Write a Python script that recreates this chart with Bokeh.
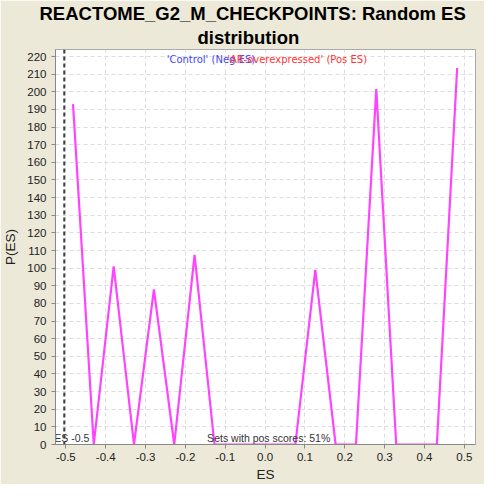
from bokeh.plotting import figure
from bokeh.models import Range1d, FixedTicker, PrintfTickFormatter, Span, Title
from bokeh.core.properties import value
from bokeh.embed import file_html
from bokeh.resources import INLINE

# Data
es_values = [-0.482, -0.430, -0.380, -0.329, -0.279, -0.228, -0.177, -0.127,
             -0.076, -0.026, 0.025, 0.076, 0.126, 0.177, 0.228, 0.279,
             0.329, 0.380, 0.431, 0.482]
p_es = [193, 0, 101, 0, 88, 0, 107.5, 0,
        0, 0, 0, 0, 99, 0, 0, 201.5,
        0, 0, 0, 213.5]
actual_es = -0.504
x_ticks = [-0.5, -0.4, -0.3, -0.2, -0.1, 0.0, 0.1, 0.2, 0.3, 0.4, 0.5]
y_ticks = list(range(0, 230, 10))
title_line1 = "REACTOME_G2_M_CHECKPOINTS: Random ES"
title_line2 = "distribution"
neg_label = "'Control' (Neg ES)"
pos_label = "'AR-overexpressed' (Pos ES)"
pos_scores_label = "Sets with pos scores: 51%"
actual_label = "Actual ES -0.5"

FONT = "Liberation Sans"
LFONT = "DejaVu Sans"
BG = "#ECE9D8"

p = figure(width=484, height=484, output_backend="svg", toolbar_location=None,
           x_range=Range1d(-0.526, 0.528), y_range=Range1d(0, 224),
           min_border_left=54, min_border_right=9, min_border_top=2, min_border_bottom=10,
           background_fill_color="white", border_fill_color=BG)

p.add_layout(Title(text=title_line2, align="left", text_font=FONT,
                   text_font_size="18.5px", text_font_style="bold", text_color="black",
                   standoff=3, offset=142), "above")
p.add_layout(Title(text=title_line1, align="left", text_font=FONT,
                   text_font_size="18.5px", text_font_style="bold", text_color="black",
                   standoff=0, offset=-16), "above")

p.line(es_values, p_es, line_color="#FF44FF", line_width=2.2)

p.add_layout(Span(location=actual_es, dimension="height", line_color="#404040",
                  line_width=2, line_dash="4 3"))

p.text(x=[-0.441], y=[0.3], text=[actual_label], text_align="right",
       text_baseline="bottom", text_font=value(FONT), text_font_size="10.5px",
       text_color="#333333")
p.text(x=[-0.1455], y=[0.3], text=[pos_scores_label], text_align="left",
       text_baseline="bottom", text_font=value(FONT), text_font_size="10.5px",
       text_color="#333333")
p.text(x=[-0.247], y=[218.5], text=[neg_label], text_align="left",
       text_baseline="middle", text_font=value(LFONT), text_font_size="10px",
       text_color="#4444FF")
p.text(x=[-0.095], y=[218.5], text=[pos_label], text_align="left",
       text_baseline="middle", text_font=value(LFONT), text_font_size="10px",
       text_color="#FF3333")

p.xaxis.ticker = FixedTicker(ticks=x_ticks)
p.xaxis.formatter = PrintfTickFormatter(format="%.1f")
p.yaxis.ticker = FixedTicker(ticks=y_ticks)
p.xaxis.axis_label = "ES"
p.yaxis.axis_label = "P(ES)"
for ax in (p.xaxis, p.yaxis):
    ax.axis_label_text_font = FONT
    ax.axis_label_text_font_size = "13.5px"
    ax.axis_label_text_font_style = "normal"
    ax.axis_label_text_color = "#222222"
    ax.major_label_text_font = FONT
    ax.major_label_text_font_size = "11.5px"
    ax.major_label_text_color = "#222222"
    ax.axis_line_color = "#888888"
    ax.major_tick_line_color = "#888888"
    ax.major_tick_in = 0
    ax.major_tick_out = 4
    ax.minor_tick_line_color = None
p.xaxis.major_label_standoff = 4
p.xaxis.axis_label_standoff = 3
p.yaxis.axis_label_standoff = 6

p.grid.grid_line_color = "#DDDDDD"
p.grid.grid_line_dash = "4 3"
p.outline_line_color = "#AAAAAA"

open("out.html", "w").write(file_html(p, INLINE))
